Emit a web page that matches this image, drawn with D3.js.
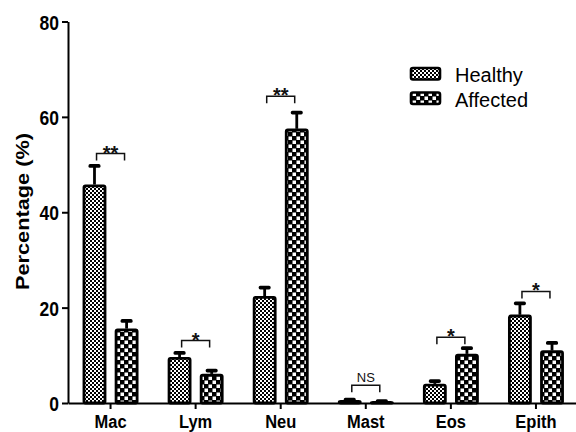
<!DOCTYPE html>
<html>
<head>
<meta charset="utf-8">
<script src="https://cdn.jsdelivr.net/npm/d3@7"></script>
<style>
  html, body { margin: 0; padding: 0; background: #fff; }
  svg { display: block; font-family: "Liberation Sans", Arial, sans-serif; }
</style>
</head>
<body>
<svg id="chart" width="576" height="432"></svg>
<script>
// Cell populations (% of cells), mean and upper error (mean + SEM)
const categories = ["Mac", "Lym", "Neu", "Mast", "Eos", "Epith"];
const groups = ["Healthy", "Affected"];
const healthyMean = [45.8, 9.6, 22.4, 0.6, 4.0, 18.5];
const healthyErr  = [50.0, 10.8, 24.5, 1.0, 4.9, 21.2];
const affectedMean = [15.6, 6.1, 57.5, 0.4, 10.3, 11.0];
const affectedErr  = [17.5, 7.1, 61.2, 0.7, 11.8, 12.9];
// Significance between groups and bracket height (in % units)
const significance = ["**", "*", "**", "NS", "*", "*"];
const bracketTop = [52.3, 13.1, 64.3, 3.7, 13.8, 23.4];
const yTicks = [0, 20, 40, 60, 80];
const yLabel = "Percentage (%)";

const svg = d3.select("#chart");
const FONT = "Liberation Sans, Arial, sans-serif";

// Checker patterns for the two groups
const defs = svg.append("defs");
const fine = defs.append("pattern").attr("id", "pat-healthy")
  .attr("patternUnits", "userSpaceOnUse").attr("width", 4).attr("height", 4);
fine.append("rect").attr("width", 4).attr("height", 4).attr("fill", "#000");
fine.append("rect").attr("x", 0).attr("y", 0).attr("width", 2).attr("height", 2).attr("fill", "#fff");
fine.append("rect").attr("x", 2).attr("y", 2).attr("width", 2).attr("height", 2).attr("fill", "#fff");

const coarse = defs.append("pattern").attr("id", "pat-affected")
  .attr("patternUnits", "userSpaceOnUse").attr("width", 8).attr("height", 8);
coarse.append("rect").attr("width", 8).attr("height", 8).attr("fill", "#000");
coarse.append("rect").attr("x", 0.5).attr("y", 0.5).attr("width", 3.5).attr("height", 3.5).attr("fill", "#fff");
coarse.append("rect").attr("x", 4.5).attr("y", 4.5).attr("width", 3.5).attr("height", 3.5).attr("fill", "#fff");

const fills = { Healthy: "url(#pat-healthy)", Affected: "url(#pat-affected)" };

const x0 = 68, yBase = 403;
const x = d3.scaleBand().domain(categories).range([x0, 578.5]).padding(0);
const xg = d3.scaleBand().domain(groups).range([0, x.bandwidth()])
  .paddingInner(0.27).paddingOuter(0.46);
const y = d3.scaleLinear().domain([0, 80]).range([yBase, 21.5]);

const rows = [];
categories.forEach((c, i) => {
  rows.push({ cat: c, grp: "Healthy", mean: healthyMean[i], err: healthyErr[i] });
  rows.push({ cat: c, grp: "Affected", mean: affectedMean[i], err: affectedErr[i] });
});

// Error bars (upper only)
const eb = svg.append("g");
rows.forEach(d => {
  const cx = x(d.cat) + xg(d.grp) + xg.bandwidth() / 2;
  eb.append("line").attr("x1", cx).attr("x2", cx)
    .attr("y1", y(d.mean)).attr("y2", y(d.err) + 1.5)
    .attr("stroke", "#000").attr("stroke-width", 2.8);
  eb.append("rect").attr("x", cx - 6).attr("y", y(d.err) - 0.5)
    .attr("width", 12).attr("height", 3.8).attr("rx", 1.6)
    .attr("fill", "#000");
});

// Bars
svg.append("g").selectAll("rect").data(rows).join("rect")
  .attr("x", d => x(d.cat) + xg(d.grp) + 1.2)
  .attr("y", d => y(d.mean) + 1.2)
  .attr("width", xg.bandwidth() - 2.4)
  .attr("height", d => Math.max(0, yBase - y(d.mean) - 1.2))
  .attr("rx", 1.5)
  .attr("fill", d => fills[d.grp])
  .attr("stroke", "#000").attr("stroke-width", 2.8);

// Significance brackets
const br = svg.append("g");
categories.forEach((c, i) => {
  const cx = x(c) + x.bandwidth() / 2;
  const top = y(bracketTop[i]);
  br.append("path")
    .attr("d", `M${cx - 14},${top + 7}V${top}H${cx + 14}V${top + 7}`)
    .attr("fill", "none").attr("stroke", "#111").attr("stroke-width", 1.5);
  const ns = significance[i] === "NS";
  br.append("text").attr("x", cx).attr("y", ns ? top - 3 : top + 6)
    .attr("text-anchor", "middle")
    .attr("font-size", ns ? 13 : 20)
    .attr("font-weight", ns ? "normal" : "bold")
    .attr("fill", "#111")
    .text(significance[i]);
});

// Axes
const yAxis = d3.axisLeft(y).tickValues(yTicks).tickSize(6).tickSizeOuter(0).tickPadding(3);
const gy = svg.append("g").attr("transform", `translate(${x0},0)`).call(yAxis);
gy.selectAll("path, line").attr("stroke", "#000").attr("stroke-width", 2);
gy.selectAll("text")
  .attr("x", 0).attr("dy", "0.36em")
  .attr("transform", "translate(-9,0) scale(1,1.2)")
  .attr("font-size", 17.5).attr("font-weight", "bold")
  .attr("fill", "#000").attr("font-family", FONT);

const xAxis = d3.axisBottom(x).tickSize(6).tickSizeOuter(0);
const gx = svg.append("g").attr("transform", `translate(0,${yBase})`).call(xAxis);
gx.selectAll("path, line").attr("stroke", "#000").attr("stroke-width", 2);
gx.selectAll("text")
  .attr("y", 0).attr("dy", 0)
  .attr("transform", "translate(0,24.5) scale(1,1.1)")
  .attr("font-size", 16.5).attr("font-weight", "bold")
  .attr("fill", "#000").attr("font-family", FONT);

// Y axis title
svg.append("text")
  .attr("transform", "translate(28.5,211.5) rotate(-90)")
  .attr("text-anchor", "middle")
  .attr("font-size", 18).attr("font-weight", "bold")
  .attr("textLength", 157).attr("lengthAdjust", "spacingAndGlyphs")
  .text(yLabel);

// Legend
const lg = svg.append("g");
groups.forEach((g, i) => {
  const yy = 67 + i * 24.5;
  lg.append("rect").attr("x", 411).attr("y", yy + 1)
    .attr("width", 29).attr("height", 11.5).attr("rx", 2)
    .attr("fill", fills[g]).attr("stroke", "#000").attr("stroke-width", 2.6);
  lg.append("text").attr("x", 455).attr("y", yy + 15)
    .attr("font-size", 20).attr("fill", "#000").text(g);
});
</script>
</body>
</html>
